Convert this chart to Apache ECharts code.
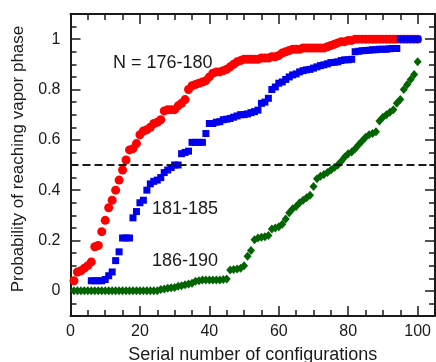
<!DOCTYPE html>
<html>
<head>
<meta charset="utf-8">
<script src="https://cdn.jsdelivr.net/npm/echarts@6/dist/echarts.min.js"></script>
<style>
    html, body { margin: 0; padding: 0; background: #fff; }
    #chart { width: 436px; height: 362px; }
</style>
</head>
<body>
<div id="chart"></div>
<script>
// probabilities, one value per configuration (serial number = index + 1)
var red176 = [0.04,0.075,0.08,0.09,0.10,0.115,0.175,0.18,0.235,0.28,
    0.33,0.36,0.40,0.44,0.48,0.52,0.56,0.565,0.585,0.62,
    0.635,0.64,0.65,0.665,0.67,0.68,0.715,0.72,0.72,0.72,
    0.735,0.745,0.76,0.80,0.815,0.82,0.825,0.83,0.835,0.85,
    0.865,0.87,0.87,0.875,0.88,0.89,0.90,0.91,0.915,0.92,
    0.92,0.92,0.92,0.92,0.925,0.925,0.925,0.93,0.93,0.935,
    0.945,0.95,0.955,0.96,0.96,0.96,0.965,0.965,0.965,0.965,
    0.965,0.965,0.965,0.97,0.975,0.98,0.985,0.99,0.99,0.995,
    0.995,1,1,1,1,1,1,1,1,1,
    1,1,1,1,1,1,1,1,1,1];

// blue series starts at configuration 6
var blueStart = 6;
var blue181 = [0.04,0.04,0.04,0.04,0.045,0.06,0.075,0.12,0.155,0.21,
    0.21,0.21,0.29,0.315,0.35,0.36,0.40,0.425,0.435,0.44,
    0.45,0.47,0.48,0.49,0.50,0.50,0.545,0.55,0.555,0.59,
    0.59,0.59,0.59,0.625,0.665,0.665,0.67,0.672,0.68,0.682,
    0.685,0.69,0.695,0.70,0.70,0.703,0.708,0.712,0.718,0.745,
    0.75,0.765,0.80,0.81,0.825,0.83,0.84,0.85,0.858,0.862,
    0.87,0.875,0.878,0.88,0.885,0.89,0.895,0.898,0.902,0.907,
    0.908,0.91,0.915,0.918,0.918,0.92,0.95,0.952,0.954,0.955,
    0.956,0.958,0.958,0.96,0.96,0.96,0.962,0.963,0.963,1,
    1,1,1,1,1];

var green186 = [0,0,0,0,0,0,0,0,0,0,
    0,0,0,0,0,0,0,0,0,0,
    0,0,0,0,0,0.005,0.007,0.01,0.012,0.013,
    0.018,0.02,0.024,0.027,0.03,0.038,0.04,0.043,0.043,0.043,
    0.043,0.043,0.043,0.045,0.047,0.083,0.085,0.087,0.09,0.10,
    0.137,0.16,0.203,0.21,0.213,0.215,0.22,0.246,0.25,0.255,
    0.265,0.285,0.31,0.326,0.335,0.35,0.36,0.37,0.38,0.415,
    0.445,0.455,0.462,0.47,0.48,0.49,0.50,0.515,0.532,0.545,
    0.552,0.565,0.58,0.595,0.61,0.62,0.625,0.632,0.675,0.69,
    0.70,0.71,0.72,0.745,0.76,0.80,0.82,0.84,0.86,0.91];

var threshold = 0.5;
var annotations = ['N = 176-180', '181-185', '186-190'];

var fontFamily = '"Liberation Sans", Arial, sans-serif';
var ink = '#1a1a1a';

function to_points(values, start) {
    return values.map(function (v, i) { return [start + i, v]; });
}

// one axis of the frame; major ones carry long ticks, minor ones short ticks only
function frame_axis(kind, position, major, extra) {
    var ax = {
        type: 'value',
        position: position,
        axisLine: { show: major, onZero: false, lineStyle: { color: ink, width: 2 } },
        axisTick: { show: true, inside: true, length: major ? 10 : 6, lineStyle: { color: ink, width: 1.5 } },
        axisLabel: { show: false },
        splitLine: { show: false }
    };
    if (kind === 'x') {
        ax.min = 0; ax.max = 105;
        ax.interval = major ? 20 : 5;
    } else {
        ax.min = -0.1; ax.max = 1.1;
        if (!major) ax.interval = 0.05;
    }
    return Object.assign(ax, extra || {});
}

var chart = echarts.init(document.getElementById('chart'));

var option = {
    animation: false,
    grid: { left: 70.5, right: 1, top: 14, bottom: 46, outerBoundsMode: 'none' },
    xAxis: [
        frame_axis('x', 'bottom', true, {
            name: 'Serial number of configurations',
            nameLocation: 'middle',
            nameGap: 30,
            nameTextStyle: { fontFamily: fontFamily, fontSize: 18, color: ink },
            axisLabel: {
                show: true, margin: 8, fontFamily: fontFamily, fontSize: 16, color: ink,
                formatter: function (v) { return v > 100 ? '' : String(v); }
            }
        }),
        frame_axis('x', 'bottom', false),
        frame_axis('x', 'top', true),
        frame_axis('x', 'top', false)
    ],
    yAxis: [
        frame_axis('y', 'left', true, {
            name: 'Probability of reaching vapor phase',
            nameLocation: 'middle',
            nameGap: 44,
            nameTextStyle: { fontFamily: fontFamily, fontSize: 17, color: ink, padding: [0, 0, 0, 12] },
            axisLabel: {
                show: true, margin: 10, fontFamily: fontFamily, fontSize: 16, color: ink,
                formatter: function (v) {
                    if (v < -1e-6 || v > 1 + 1e-6) return '';
                    return String(+v.toFixed(1));
                }
            }
        }),
        frame_axis('y', 'left', false),
        frame_axis('y', 'right', true),
        frame_axis('y', 'right', false)
    ],
    series: [
        {
            name: 'N = 176-180',
            type: 'scatter',
            symbol: 'circle',
            symbolSize: 9,
            itemStyle: { color: '#ff0000', opacity: 1 },
            data: to_points(red176, 1),
            markLine: {
                silent: true,
                symbol: 'none',
                label: { show: false },
                lineStyle: { color: ink, type: [8, 4], width: 2 },
                data: [{ yAxis: threshold }]
            }
        },
        {
            name: '181-185',
            type: 'scatter',
            symbol: 'rect',
            symbolSize: 7,
            itemStyle: { color: '#0000ee', opacity: 1 },
            data: to_points(blue181, blueStart)
        },
        {
            name: '186-190',
            type: 'scatter',
            symbol: 'diamond',
            symbolSize: [8, 9],
            itemStyle: { color: '#006400', opacity: 1 },
            data: to_points(green186, 1)
        }
    ],
    graphic: [
        { type: 'text', left: 113, top: 54, style: { text: annotations[0], font: '18px ' + fontFamily, fill: ink } },
        { type: 'text', left: 152, top: 200, style: { text: annotations[1], font: '18px ' + fontFamily, fill: ink } },
        { type: 'text', left: 152, top: 252, style: { text: annotations[2], font: '18px ' + fontFamily, fill: ink } }
    ]
};

chart.setOption(option);
</script>
</body>
</html>
